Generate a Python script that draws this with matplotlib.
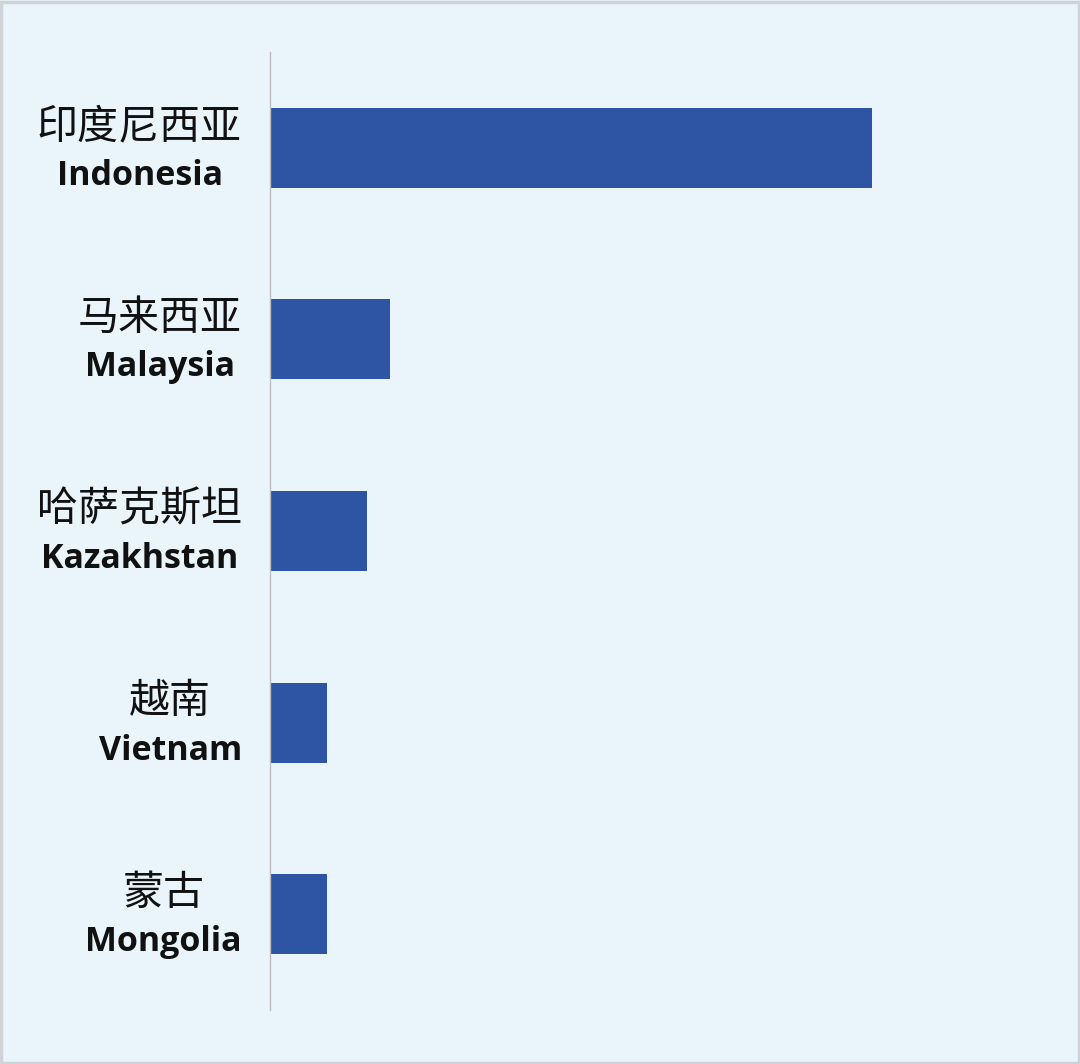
import matplotlib.pyplot as plt
from matplotlib.patches import Rectangle

cn_names = ["印度尼西亚", "马来西亚", "哈萨克斯坦", "越南", "蒙古"]
en_names = ["Indonesia", "Malaysia", "Kazakhstan", "Vietnam", "Mongolia"]
values = [100, 19.9, 16.1, 9.5, 9.5]

bg = "#E9F5FA"
bar_color = "#2E54A4"

fig = plt.figure(figsize=(10.8, 10.64), dpi=100, facecolor=bg)
ax = fig.add_axes([270 / 1080, 54 / 1064, 722 / 1080, 958 / 1064])
ax.set_facecolor(bg)

pos = list(range(len(values)))
ax.barh(pos, values, height=0.417, color=bar_color)
ax.set_xlim(0, 120)
ax.set_ylim(4.5, -0.5)

for s in ["top", "right", "bottom"]:
    ax.spines[s].set_visible(False)
ax.spines["left"].set_color("#BDBDBD")
ax.spines["left"].set_linewidth(1.0)
ax.set_xticks([])
ax.set_yticks([])

# two-line labels, block right edge at x=242px, lines centred on each other
right_px = 242
fig.canvas.draw()
renderer = fig.canvas.get_renderer()
for i, (cn, en) in enumerate(zip(cn_names, en_names)):
    y_disp = ax.transData.transform((0, i))[1]
    yc = y_disp / 1064
    t1 = fig.text(right_px / 1080, yc + 21 / 1064, cn, ha="right", va="center",
                  fontsize=29.5, family=["Noto Sans CJK SC", "DejaVu Sans"], color="#111111")
    t2 = fig.text(right_px / 1080, yc - 28 / 1064, en, ha="right", va="center",
                  fontsize=24.5, family="Open Sans", fontweight="bold", color="#111111")
    w1 = t1.get_window_extent(renderer).width
    w2 = t2.get_window_extent(renderer).width
    wmax = max(w1, w2)
    center = right_px - wmax / 2
    t1.set_ha("center")
    t2.set_ha("center")
    t1.set_x(center / 1080)
    t2.set_x(center / 1080)

fig.patches.append(Rectangle((0.001, 0.001), 0.998, 0.997, transform=fig.transFigure,
                             fill=False, edgecolor="#CFD3D6", linewidth=2.5))

fig.savefig("out.png", dpi=100, facecolor=bg)
